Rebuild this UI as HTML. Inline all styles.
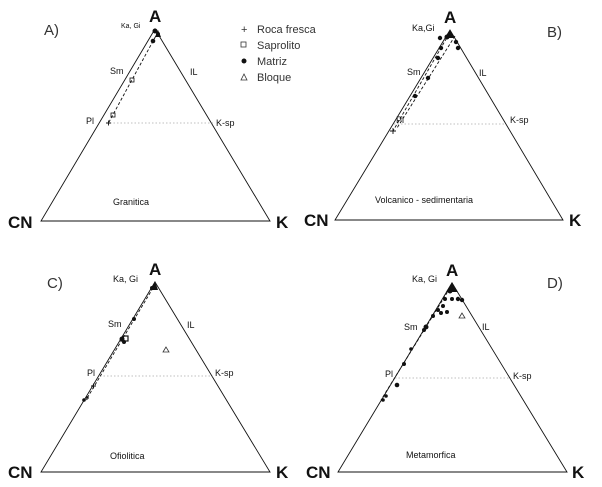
<!DOCTYPE html>
<html><head><meta charset="utf-8"><style>
html,body{margin:0;padding:0;background:#fff;width:602px;height:487px;overflow:hidden}
svg text{font-family:"Liberation Sans",sans-serif;fill:#111}
.big{font-size:17px;font-weight:bold}
.pl{font-size:15px;fill:#333}
.lb{font-size:9px}
.lg{font-size:11px;fill:#333}
</style></head><body>
<svg width="602" height="487" viewBox="0 0 602 487" xmlns="http://www.w3.org/2000/svg">
<g fill="none" stroke="#111" stroke-width="0.9">
<polygon points="155,29 41,221 270,221"/>
<polygon points="450,30 335,220 563,220"/>
<polygon points="155,282 41,472 270,472"/>
<polygon points="452,283 338,472 567,472"/>
</g>
<g stroke="#aaa" stroke-width="0.8" stroke-dasharray="1.5,2">
<line x1="110" y1="123" x2="213" y2="123"/>
<line x1="394" y1="124" x2="506" y2="124"/>
<line x1="100" y1="376" x2="213" y2="376"/>
<line x1="395" y1="378" x2="510" y2="378"/>
</g>
<g stroke="#111" stroke-width="0.9" stroke-dasharray="3,2" fill="none">
<line x1="158" y1="32" x2="109" y2="122"/>
<line x1="449" y1="34" x2="393" y2="131"/>
<line x1="455" y1="36" x2="397" y2="128"/>
<line x1="153" y1="288" x2="86" y2="400"/>
<line x1="450" y1="288" x2="381" y2="400"/>
</g>
<g stroke="#111" stroke-width="0.9">
<path d="M106,123h5M108.5,120.5v5"/>
<path d="M390,131h6M393,128v6"/>
<path d="M91,386h5M93.5,383.5v5"/>
<path d="M85,398h4M87,396v4"/>
</g>
<text class="big" x="149" y="22">A</text>
<text class="big" x="8" y="228">CN</text>
<text class="big" x="276" y="228">K</text>
<text class="pl" x="44" y="35">A)</text>
<text class="lb" x="121" y="28" style="font-size:7px">Ka, Gi</text>
<text class="lb" x="110" y="74">Sm</text>
<text class="lb" x="190" y="75">IL</text>
<text class="lb" x="86" y="124">Pl</text>
<text class="lb" x="216" y="126">K-sp</text>
<text class="lb" x="113" y="205">Granitica</text>
<text class="lg" x="241" y="33">+</text><text class="lg" x="257" y="33">Roca fresca</text>
<rect x="241" y="42" width="5" height="5" fill="none" stroke="#333" stroke-width="0.8"/><text class="lg" x="257" y="49">Saprolito</text>
<circle cx="244" cy="61" r="2.5" fill="#111"/><text class="lg" x="257" y="65">Matriz</text>
<polygon points="244,74 241,80 247,80" fill="none" stroke="#333" stroke-width="0.8"/><text class="lg" x="257" y="81">Bloque</text>
<g fill="#111">
<circle cx="155" cy="31" r="2.5"/><circle cx="158" cy="34" r="2"/><circle cx="153" cy="41" r="2.3"/>
<polygon points="158,30 155,37 161,37"/>
</g>
<g fill="none" stroke="#111" stroke-width="0.8">
<rect x="130" y="78" width="4" height="4"/><rect x="111" y="113" width="4" height="4"/>
</g>
<text class="big" x="444" y="23">A</text>
<text class="big" x="304" y="226">CN</text>
<text class="big" x="569" y="226">K</text>
<text class="pl" x="547" y="37">B)</text>
<text class="lb" x="412" y="31">Ka,Gi</text>
<text class="lb" x="407" y="75">Sm</text>
<text class="lb" x="479" y="76">IL</text>
<text class="lb" x="396" y="123">Pl</text>
<text class="lb" x="510" y="123">K-sp</text>
<text class="lb" x="375" y="203">Volcanico - sedimentaria</text>
<g fill="#111">
<polygon points="450,30 445,38 455,38"/>
<circle cx="447" cy="37" r="2.5"/><circle cx="440" cy="38" r="2.2"/><circle cx="456" cy="42" r="2.2"/><circle cx="458" cy="48" r="2.2"/>
<circle cx="441" cy="48" r="2.2"/><circle cx="438" cy="58" r="2.2"/><circle cx="428" cy="78" r="2.2"/><circle cx="415" cy="96" r="2.2"/>
</g>
<text class="big" x="149" y="275">A</text>
<text class="big" x="8" y="478">CN</text>
<text class="big" x="276" y="478">K</text>
<text class="pl" x="47" y="288">C)</text>
<text class="lb" x="113" y="282">Ka, Gi</text>
<text class="lb" x="108" y="327">Sm</text>
<text class="lb" x="187" y="328">IL</text>
<text class="lb" x="87" y="376">Pl</text>
<text class="lb" x="215" y="376">K-sp</text>
<text class="lb" x="110" y="459">Ofiolitica</text>
<g fill="#111">
<polygon points="155,281 150,290 158,290"/>
<circle cx="152" cy="288" r="2"/><circle cx="134" cy="319" r="2"/><circle cx="122" cy="339" r="2.5"/><circle cx="124" cy="342" r="2"/><circle cx="84" cy="400" r="1.8"/>
</g>
<rect x="123" y="336" width="5" height="5" fill="none" stroke="#111" stroke-width="1.2"/>
<polygon points="166,347 163,352 169,352" fill="none" stroke="#333" stroke-width="0.8"/>
<text class="big" x="446" y="276">A</text>
<text class="big" x="306" y="478">CN</text>
<text class="big" x="572" y="478">K</text>
<text class="pl" x="547" y="288">D)</text>
<text class="lb" x="412" y="282">Ka, Gi</text>
<text class="lb" x="404" y="330">Sm</text>
<text class="lb" x="482" y="330">IL</text>
<text class="lb" x="385" y="377">Pl</text>
<text class="lb" x="513" y="379">K-sp</text>
<text class="lb" x="406" y="458">Metamorfica</text>
<g fill="#111">
<polygon points="452,282 446,292 458,292"/>
<circle cx="450" cy="291" r="2.5"/><circle cx="445" cy="299" r="2"/><circle cx="452" cy="299" r="2"/><circle cx="458" cy="299" r="2.2"/><circle cx="462" cy="300" r="2.2"/>
<circle cx="443" cy="306" r="2"/><circle cx="438" cy="310" r="2"/><circle cx="441" cy="313" r="2"/><circle cx="447" cy="312" r="2"/>
<circle cx="433" cy="316" r="2"/><circle cx="426" cy="327" r="2.5"/><circle cx="424" cy="330" r="2"/><circle cx="411" cy="349" r="1.8"/>
<circle cx="404" cy="364" r="2"/><circle cx="397" cy="385" r="2.3"/><circle cx="386" cy="396" r="1.8"/><circle cx="383" cy="400" r="1.8"/>
</g>
<polygon points="462,313 459,318 465,318" fill="none" stroke="#333" stroke-width="0.8"/>
</svg>
</body></html>
